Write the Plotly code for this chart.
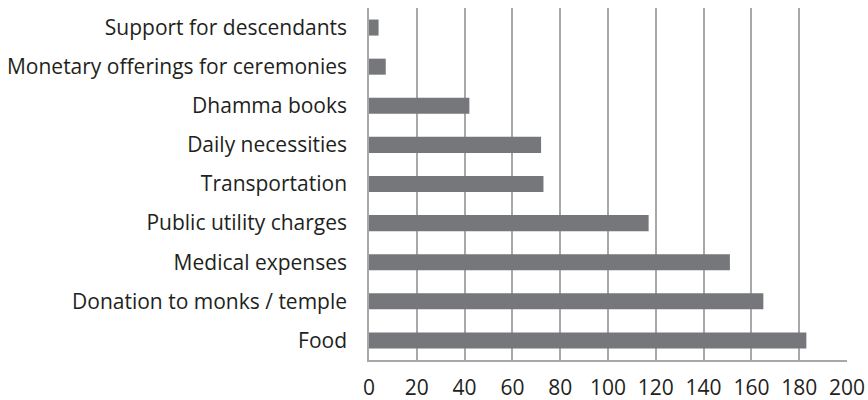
import plotly.graph_objects as go

categories = [
    "Food",
    "Donation to monks / temple",
    "Medical expenses",
    "Public utility charges",
    "Transportation",
    "Daily necessities",
    "Dhamma books",
    "Monetary offerings for ceremonies",
    "Support for descendants",
]
values = [183, 165, 151, 117, 73, 72, 42, 7, 4]
x_ticks = [0, 20, 40, 60, 80, 100, 120, 140, 160, 180, 200]

fig = go.Figure(
    go.Bar(
        y=categories,
        x=values,
        orientation="h",
        width=0.41,
        marker=dict(color="#76777a", line=dict(width=0)),
    )
)

fig.update_layout(
    width=868,
    height=400,
    margin=dict(l=368.5, r=20.7, t=7.7, b=40),
    paper_bgcolor="white",
    plot_bgcolor="white",
    font=dict(family="Open Sans", size=21, color="#231f20"),
    showlegend=False,
    bargap=0.59,
)
fig.update_xaxes(
    range=[0, 200],
    tickvals=x_ticks,
    showgrid=True,
    gridcolor="#a8a8a8",
    gridwidth=1.5,
    showline=True,
    linecolor="#a8a8a8",
    linewidth=1.5,
    zeroline=False,
    ticks="",
    ticklabelstandoff=8,
    automargin=False,
    fixedrange=True,
)
fig.update_yaxes(
    categoryorder="array",
    categoryarray=categories,
    showgrid=False,
    showline=True,
    linecolor="#a8a8a8",
    linewidth=1.5,
    ticks="",
    ticklabelstandoff=16,
    automargin=False,
    fixedrange=True,
)

fig.write_html(
    "out.html",
    config={"displayModeBar": False},
    post_script="document.body.style.margin='0';document.body.style.overflow='hidden';",
)
